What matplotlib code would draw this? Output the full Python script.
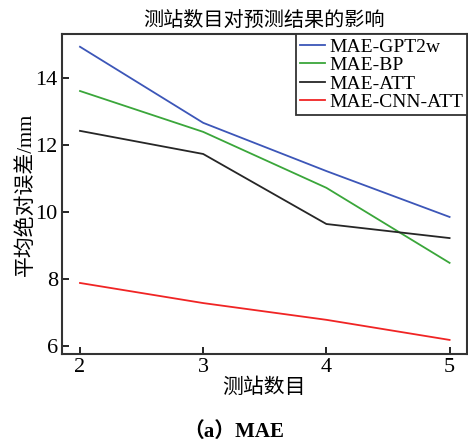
import numpy as np
import matplotlib.pyplot as plt

plt.rcParams['font.family'] = ['Liberation Serif', 'Noto Sans CJK SC']
plt.rcParams['axes.unicode_minus'] = False

n_stations = [2, 3, 4, 5]
mae_gpt2w = [14.93, 12.66, 11.22, 9.85]
mae_bp = [13.61, 12.39, 10.72, 8.48]
mae_att = [12.42, 11.73, 9.64, 9.22]
mae_cnn_att = [7.88, 7.28, 6.78, 6.18]

fig = plt.figure(figsize=(4.68, 4.45), dpi=100)
ax = fig.add_axes([0.1325, 0.2045, 0.865, 0.719])

ax.plot(n_stations, mae_gpt2w, color='#3c56b8', lw=1.3, label='MAE-GPT2w')
ax.plot(n_stations, mae_bp, color='#3aa63a', lw=1.3, label='MAE-BP')
ax.plot(n_stations, mae_att, color='#262626', lw=1.3, label='MAE-ATT')
ax.plot(n_stations, mae_cnn_att, color='#f02424', lw=1.3, label='MAE-CNN-ATT')

ax.set_xlim(1.854, 5.14)
ax.set_ylim(5.76, 15.31)
ax.set_xticks([2, 3, 4, 5])
ax.set_yticks([6, 8, 10, 12, 14])
ax.tick_params(direction='in', length=5, width=1.2, labelsize=16, pad=3)
for s in ax.spines.values():
    s.set_linewidth(1.5)
    s.set_color('#333333')

ax.set_xlabel('测站数目', fontsize=15, labelpad=1)
ax.set_ylabel('平均绝对误差/mm', fontsize=15, labelpad=0)
ax.set_title('测站数目对预测结果的影响', fontsize=14.5, pad=6)

leg = ax.legend(loc='upper right', fontsize=14, handlelength=1.3, handletextpad=0.2,
                labelspacing=0.05, borderpad=0.2, borderaxespad=0, fancybox=False,
                framealpha=1)
leg.get_frame().set_edgecolor('#333333')
leg.get_frame().set_linewidth(1.3)

fig.text(0.5, 0.029, '（a）MAE', ha='center', va='center', fontsize=15, fontweight='bold')

fig.savefig('out.png', dpi=100)
